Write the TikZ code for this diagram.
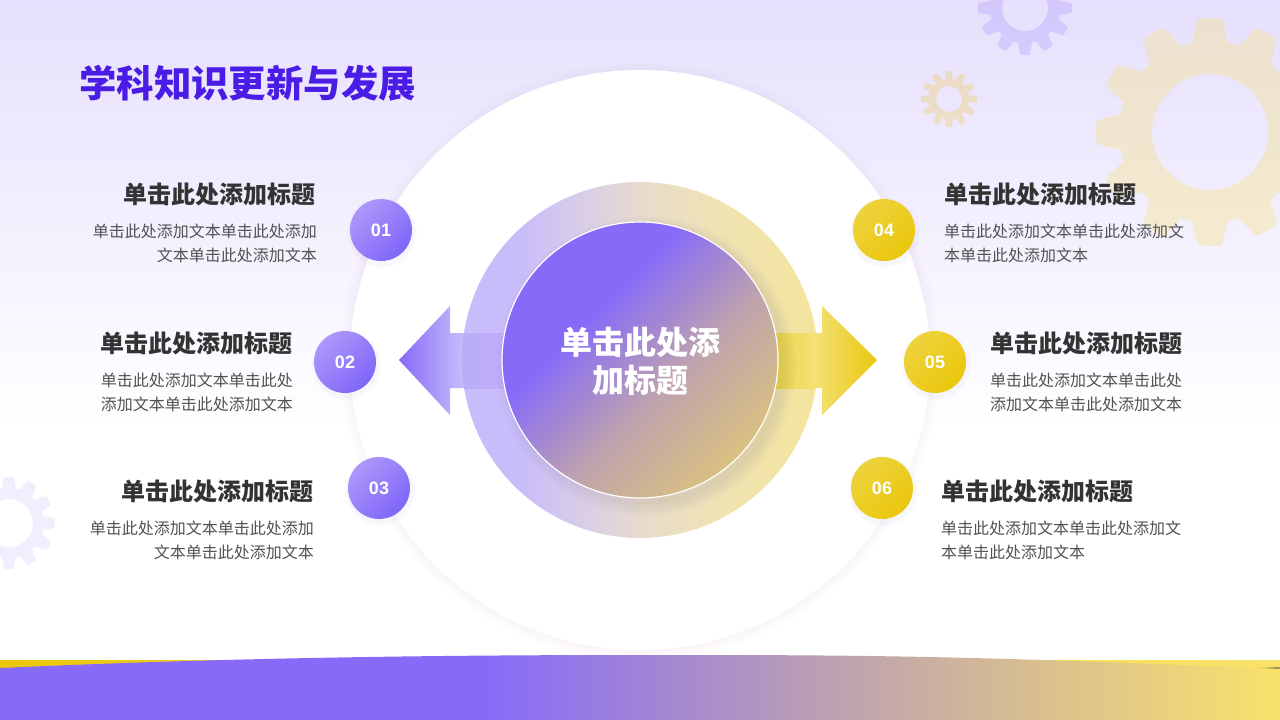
\documentclass[tikz,border=0pt]{standalone}
\usepackage{fontspec}
\setmainfont{Noto Sans CJK SC}
\newfontfamily\numfont{Liberation Sans}
\definecolor{purpleA}{HTML}{876BF8}
\definecolor{purpleB}{HTML}{C9BEFB}
\definecolor{goldA}{HTML}{EAC70C}
\definecolor{goldB}{HTML}{F5E27E}
\definecolor{goldC}{HTML}{F9E26A}
\definecolor{bgtop}{HTML}{E6DFFD}
\definecolor{titlecol}{HTML}{4A1CE6}
\definecolor{ringL}{HTML}{C8BCFA}
\definecolor{ringA}{HTML}{D9CDE8}
\definecolor{ringM}{HTML}{E8DCCB}
\definecolor{ringB}{HTML}{EFE2B5}
\definecolor{ringR}{HTML}{F4E59E}
\definecolor{midtone}{HTML}{BFA3AE}
\definecolor{coreend}{HTML}{DDC47A}
\pgfdeclarehorizontalshading{bandshade}{100bp}{color(0bp)=(purpleA);color(44bp)=(purpleA);color(58bp)=(midtone);color(75bp)=(goldC);color(100bp)=(goldC)}
\pgfdeclarehorizontalshading{coreshade}{100bp}{color(0bp)=(purpleA);color(38bp)=(purpleA);color(57bp)=(midtone);color(77bp)=(coreend);color(100bp)=(coreend)}
\pgfdeclarehorizontalshading{ringshade}{100bp}{color(0bp)=(ringL);color(33bp)=(ringL);color(42bp)=(ringA);color(51bp)=(ringM);color(60bp)=(ringB);color(74bp)=(ringR);color(100bp)=(ringR)}
\tikzset{
	declare function={gearr(\t,\a,\b,\n)=\a+(\b-\a)*min(1,max(0,0.92*cos(\n*\t)+0.68));},
	numdisc/.style={circle,minimum size=62pt,inner sep=0pt,text=white,font=\numfont\fontsize{18}{18}\selectfont\bfseries},
	purpledisc/.style={numdisc,shading=axis,left color=purpleA!70!white,right color=purpleA!95!blue,shading angle=45},
	golddisc/.style={numdisc,shading=axis,left color=goldA!80!white,right color=goldA,shading angle=45},
	headtext/.style={inner sep=0pt,text=black!80,font=\fontsize{24}{28}\selectfont\bfseries},
	bodytext/.style={inner sep=0pt,text=black!68,font=\fontsize{16}{24}\selectfont}
}
% center x, center y, body, outer, hole, colour, opacity
\newcommand{\gearshape}[7]{
	\fill[#6,fill opacity=#7,even odd rule] plot[samples=721,domain=0:360] ({#1+gearr(\x,#3,#4,12)*cos(\x)},{#2+gearr(\x,#3,#4,12)*sin(\x)}) -- cycle (#1,#2) circle (#5);
}
\begin{document}
\begin{tikzpicture}[x=1pt,y=-1pt]
	\useasboundingbox (0,0) rectangle (1280,720);
	\fill[white] (0,0) rectangle (1280,720);
	\shade[top color=bgtop,bottom color=white] (0,0) rectangle (1280,425);

	\gearshape{1210}{132}{91}{114}{58}{goldB}{.36}
	\gearshape{1025}{8}{35}{47}{23}{purpleA}{.2}
	\gearshape{949}{99}{20}{28}{13}{goldA!85!orange}{.22}
	\gearshape{9}{523}{35}{46}{24}{purpleA}{.11}

	% big white disc
	\foreach \r in {300,298,...,290}
		\fill[purpleA,opacity=.007] (640,360) circle (\r);
	\fill[white] (640,360) circle (290);

	% arrows
	\shade[left color=purpleA,right color=purpleB] (399,360) -- (450,306) -- (450,333) -- (465,333) -- (465,388) -- (450,388) -- (450,415) -- cycle;
	\shade[left color=goldB,right color=goldA] (810,333) -- (822,333) -- (822,306) -- (877,360) -- (822,415) -- (822,388) -- (810,388) -- cycle;

	\shade[shading=ringshade] (640,360) circle (178);

	% shafts seen through the ring
	\begin{scope}
		\clip (640,360) circle (178);
		\shade[left color=ringL!70!purpleA!90!white,right color=purpleA!55!white] (460,333) rectangle (505,388);
		\shade[left color=goldA!75!white,right color=goldB] (775,333) rectangle (820,388);
	\end{scope}

	\foreach \r in {150,148,...,138}
		\fill[black!60!purpleA,opacity=.01] (646,366) circle (\r);
	\shade[shading=coreshade,shading angle=-45,draw=white,line width=1.2pt] (640,360) circle (138);
	\node[inner sep=0pt,align=center,text=white,font=\fontsize{32}{38}\selectfont\bfseries] (core) at (640,361) {单击此处添\\加标题};

	% band at the bottom
	\shade[left color=goldA,right color=goldC] (0,660) rectangle (1280,720);
	\fill[black!35!goldB] (1258,668) -- (1280,667) -- (1280,669.5) -- cycle;
	\shade[shading=bandshade] (0,668) .. controls (220,658) and (430,655) .. (640,655) .. controls (850,655) and (950,655) .. (1280,669) -- (1280,720) -- (0,720) -- cycle;

	\node[anchor=west,inner sep=0pt,text=titlecol,font=\fontsize{37.4}{42}\selectfont\bfseries] (title) at (79,83) {学科知识更新与发展};

	% numbered discs
	\foreach \n/\xc/\yc/\sty in {01/381/230/purpledisc,02/345/362/purpledisc,03/379/488/purpledisc,04/884/230/golddisc,05/935/362/golddisc,06/882/488/golddisc}{
		\fill[black!30!purpleA,opacity=.02] (\xc+1,\yc+3) circle (35);
		\fill[black!30!purpleA,opacity=.02] (\xc+1,\yc+3) circle (33);
		\node[\sty] (disc\n) at (\xc,\yc) {\n};
	}

	% left texts
	\node[headtext,anchor=east] (head1) at (316,194) {单击此处添加标题};
	\node[bodytext,anchor=east,align=right] (body1) at (317,243) {单击此处添加文本单击此处添加\\文本单击此处添加文本};
	\node[headtext,anchor=east] (head2) at (293,343) {单击此处添加标题};
	\node[bodytext,anchor=east,align=right] (body2) at (293,392) {单击此处添加文本单击此处\\添加文本单击此处添加文本};
	\node[headtext,anchor=east] (head3) at (314,491) {单击此处添加标题};
	\node[bodytext,anchor=east,align=right] (body3) at (314,540) {单击此处添加文本单击此处添加\\文本单击此处添加文本};

	% right texts
	\node[headtext,anchor=west] (head4) at (944,194) {单击此处添加标题};
	\node[bodytext,anchor=west,align=left] (body4) at (944,243) {单击此处添加文本单击此处添加文\\本单击此处添加文本};
	\node[headtext,anchor=west] (head5) at (990,343) {单击此处添加标题};
	\node[bodytext,anchor=west,align=left] (body5) at (990,392) {单击此处添加文本单击此处\\添加文本单击此处添加文本};
	\node[headtext,anchor=west] (head6) at (941,491) {单击此处添加标题};
	\node[bodytext,anchor=west,align=left] (body6) at (941,540) {单击此处添加文本单击此处添加文\\本单击此处添加文本};
\end{tikzpicture}
\end{document}
